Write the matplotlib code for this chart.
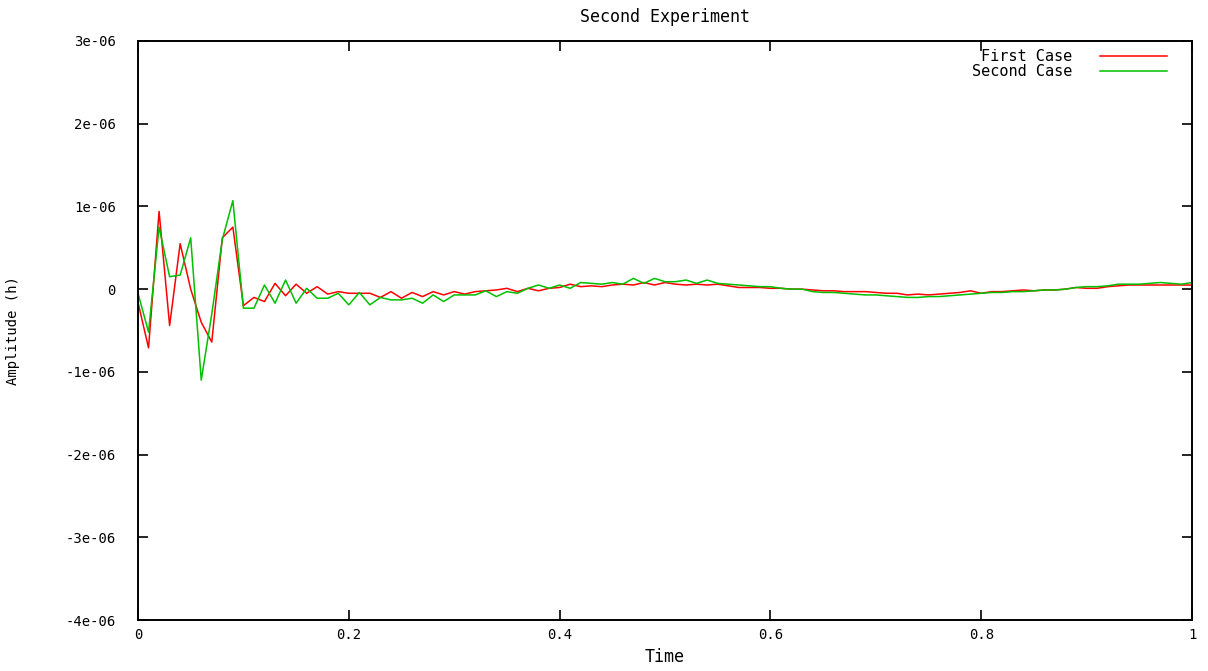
import numpy as np
import matplotlib
matplotlib.use("Agg")
import matplotlib.pyplot as plt
import matplotlib.ticker as pltTicker

# time base, 0.01 steps
time = np.round(np.arange(0, 101) * 0.01, 2)

# amplitudes in units of 1e-06
first_case = [
    -0.16, -0.71, 0.94, -0.44, 0.55, 0.00, -0.40, -0.64, 0.62, 0.75,
    -0.20, -0.10, -0.15, 0.07, -0.08, 0.06, -0.05, 0.03, -0.06, -0.03,
    -0.05, -0.05, -0.05, -0.10, -0.03, -0.11, -0.04, -0.09, -0.03, -0.07,
    -0.03, -0.06, -0.03, -0.02, -0.01, 0.01, -0.03, 0.01, -0.02, 0.01,
    0.02, 0.06, 0.03, 0.04, 0.03, 0.05, 0.06, 0.05, 0.08, 0.05,
    0.08, 0.06, 0.05, 0.06, 0.05, 0.06, 0.04, 0.02, 0.02, 0.02,
    0.01, 0.01, 0.00, 0.00, -0.01, -0.02, -0.02, -0.03, -0.03, -0.03,
    -0.04, -0.05, -0.05, -0.07, -0.06, -0.07, -0.06, -0.05, -0.04, -0.02,
    -0.05, -0.03, -0.03, -0.02, -0.01, -0.02, -0.01, -0.01, 0.00, 0.02,
    0.01, 0.01, 0.03, 0.04, 0.05, 0.05, 0.05, 0.05, 0.05, 0.05,
    0.05,
]
second_case = [
    -0.05, -0.52, 0.75, 0.15, 0.17, 0.62, -1.10, -0.30, 0.60, 1.07,
    -0.23, -0.23, 0.05, -0.17, 0.11, -0.17, 0.01, -0.11, -0.11, -0.05,
    -0.19, -0.04, -0.19, -0.10, -0.13, -0.13, -0.11, -0.17, -0.07, -0.15,
    -0.07, -0.07, -0.07, -0.02, -0.09, -0.03, -0.05, 0.01, 0.05, 0.01,
    0.05, 0.01, 0.08, 0.07, 0.06, 0.08, 0.06, 0.13, 0.07, 0.13,
    0.09, 0.09, 0.11, 0.07, 0.11, 0.07, 0.06, 0.05, 0.04, 0.03,
    0.03, 0.01, 0.00, 0.00, -0.03, -0.04, -0.04, -0.05, -0.06, -0.07,
    -0.07, -0.08, -0.09, -0.10, -0.10, -0.09, -0.09, -0.08, -0.07, -0.06,
    -0.05, -0.04, -0.04, -0.03, -0.03, -0.02, -0.01, -0.01, 0.00, 0.02,
    0.03, 0.03, 0.04, 0.06, 0.06, 0.06, 0.07, 0.08, 0.07, 0.06,
    0.08,
]

x_ticks = [0, 0.2, 0.4, 0.6, 0.8, 1.0]
y_ticks = [-4e-06, -3e-06, -2e-06, -1e-06, 0, 1e-06, 2e-06, 3e-06]

MONO = "DejaVu Sans Mono"


def fmt_y(v, _pos):
    if abs(v) < 1e-12:
        return "0"
    return f"{v:.0e}"


def fmt_x(v, _pos):
    if abs(v) < 1e-9:
        return "0"
    if abs(v - 1) < 1e-9:
        return "1"
    return f"{v:.1f}"


fig = plt.figure(figsize=(12.08, 6.71), dpi=100)
ax = fig.add_axes([138 / 1208, 1 - 620 / 671, (1192 - 138) / 1208, (620 - 41) / 671])

scale = 1e-06
ax.plot(time, np.array(first_case) * scale, color="#ff0000", lw=1.1, label="First Case")
ax.plot(time, np.array(second_case) * scale, color="#00c000", lw=1.1, label="Second Case")

ax.set_xlim(0, 1)
ax.set_ylim(-4e-06, 3e-06)
ax.set_xticks(x_ticks)
ax.set_yticks(y_ticks)
ax.xaxis.set_major_formatter(pltTicker.FuncFormatter(fmt_x))
ax.yaxis.set_major_formatter(pltTicker.FuncFormatter(fmt_y))
ax.tick_params(direction="in", length=7, width=1.2, top=True, right=True,
               labelsize=10)
ax.tick_params(axis="y", pad=16)
ax.tick_params(axis="x", pad=6)
for lbl in ax.get_xticklabels() + ax.get_yticklabels():
    lbl.set_family(MONO)
for s in ax.spines.values():
    s.set_linewidth(1.4)

ax.set_title("Second Experiment", family=MONO, fontsize=12, pad=14)
ax.set_xlabel("Time", family=MONO, fontsize=12, labelpad=4)
ax.set_ylabel("Amplitude (h)", family=MONO, fontsize=10)
ax.yaxis.set_label_coords(-0.112, 0.5)

ax.legend(loc="upper right", bbox_to_anchor=(0.982, 0.9965), frameon=False,
          markerfirst=False, prop={"family": MONO, "size": 11},
          handlelength=4.4, handletextpad=1.8, borderaxespad=0.0,
          labelspacing=0.0)

fig.savefig("out.png", dpi=100)
